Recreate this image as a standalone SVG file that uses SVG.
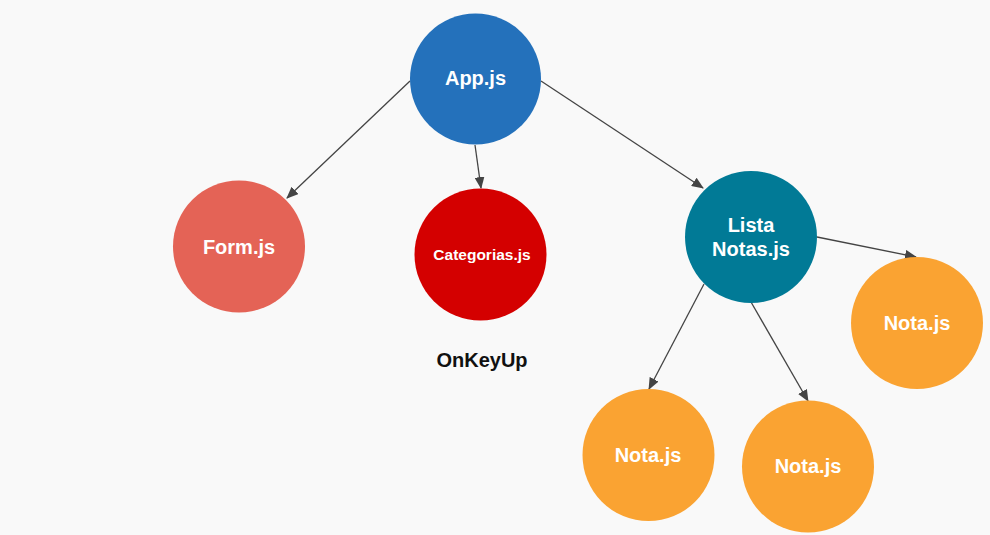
<svg xmlns="http://www.w3.org/2000/svg" width="990" height="535" viewBox="0 0 990 535">
<style>
.lbl{font-family:"Liberation Sans",Arial,sans-serif;font-weight:bold;fill:#fff;text-anchor:middle;font-size:20px}
.edge{stroke:#444;stroke-width:1.3;fill:none;marker-end:url(#ah)}
.nota{fill:#FAA332}
</style>
<defs>
<marker id="ah" markerUnits="userSpaceOnUse" markerWidth="12" markerHeight="10" refX="11" refY="5" orient="auto">
<path d="M0,0 L12,5 L0,10 Z" fill="#444"/>
</marker>
</defs>
<rect width="990" height="535" fill="#F9F9F9"/>
<g id="connectors">
<line class="edge" x1="410" y1="81" x2="287" y2="198"/>
<line class="edge" x1="475" y1="145" x2="481" y2="188"/>
<line class="edge" x1="541" y1="81" x2="703" y2="188"/>
<line class="edge" x1="817" y1="237" x2="916" y2="257"/>
<line class="edge" x1="704" y1="284" x2="649" y2="389"/>
<line class="edge" x1="751" y1="302" x2="808" y2="401"/>
</g>
<g id="app"><circle cx="475.5" cy="79" r="65.5" fill="#2471BB"/><text class="lbl" x="475.5" y="85">App.js</text></g>
<g id="form"><circle cx="239" cy="246.5" r="66" fill="#E46356"/><text class="lbl" x="239" y="253.5">Form.js</text></g>
<g id="categorias"><circle cx="480.5" cy="254.5" r="66" fill="#D40000"/><text class="lbl" x="482" y="259.5" style="font-size:15.5px">Categorias.js</text></g>
<g id="onkeyup"><text x="482" y="367" style="font-family:'Liberation Sans',Arial,sans-serif;font-weight:bold;font-size:20px;fill:#111;text-anchor:middle">OnKeyUp</text></g>
<g id="lista"><circle cx="751" cy="237" r="66" fill="#017A96"/><text class="lbl" x="751" y="232">Lista</text><text class="lbl" x="751" y="256">Notas.js</text></g>
<g id="nota1"><circle class="nota" cx="917" cy="323" r="66"/><text class="lbl" x="917" y="330">Nota.js</text></g>
<g id="nota2"><circle class="nota" cx="648.5" cy="455" r="66"/><text class="lbl" x="648" y="461.5">Nota.js</text></g>
<g id="nota3"><circle class="nota" cx="808" cy="466.5" r="66"/><text class="lbl" x="808" y="473">Nota.js</text></g>
</svg>
